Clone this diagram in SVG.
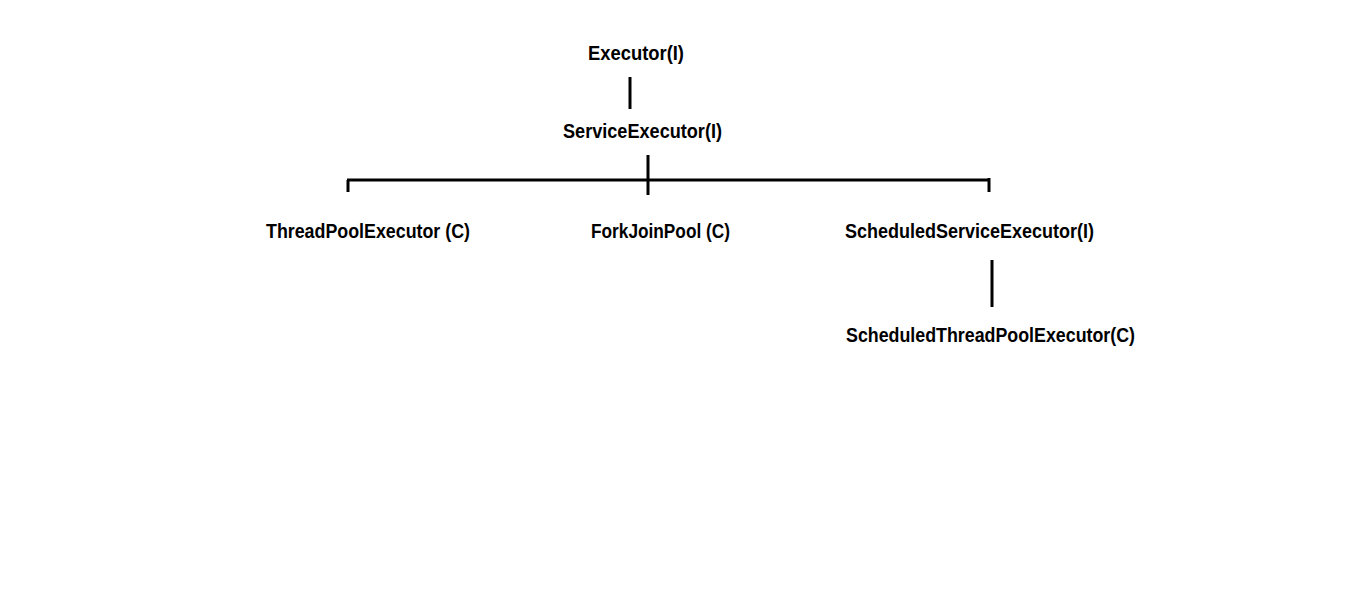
<svg xmlns="http://www.w3.org/2000/svg" width="1360" height="613" viewBox="0 0 1360 613">
<style>
text{font-family:"Liberation Sans",Arial,sans-serif;font-weight:bold;font-size:20px;fill:#000}
.c{stroke:#000;stroke-width:3;fill:none}
</style>
<rect width="1360" height="613" fill="#fff"/>
<g id="connectors">
<line class="c" x1="630" y1="77" x2="630" y2="109"/>
<line class="c" x1="648" y1="155" x2="648" y2="195"/>
<line class="c" x1="347" y1="180" x2="990" y2="180"/>
<line class="c" x1="348" y1="180" x2="348" y2="192"/>
<line class="c" x1="989" y1="178" x2="989" y2="192"/>
<line class="c" x1="992" y1="260" x2="992" y2="307"/>
</g>
<g id="executor"><text x="588" y="60" textLength="96" lengthAdjust="spacingAndGlyphs">Executor(I)</text></g>
<g id="serviceExecutor"><text x="563" y="138" textLength="159" lengthAdjust="spacingAndGlyphs">ServiceExecutor(I)</text></g>
<g id="threadPoolExecutor"><text x="266" y="238" textLength="204" lengthAdjust="spacingAndGlyphs">ThreadPoolExecutor (C)</text></g>
<g id="forkJoinPool"><text x="591" y="238" textLength="139" lengthAdjust="spacingAndGlyphs">ForkJoinPool (C)</text></g>
<g id="scheduledServiceExecutor"><text x="845" y="238" textLength="249" lengthAdjust="spacingAndGlyphs">ScheduledServiceExecutor(I)</text></g>
<g id="scheduledThreadPoolExecutor"><text x="846" y="342" textLength="289" lengthAdjust="spacingAndGlyphs">ScheduledThreadPoolExecutor(C)</text></g>
</svg>
